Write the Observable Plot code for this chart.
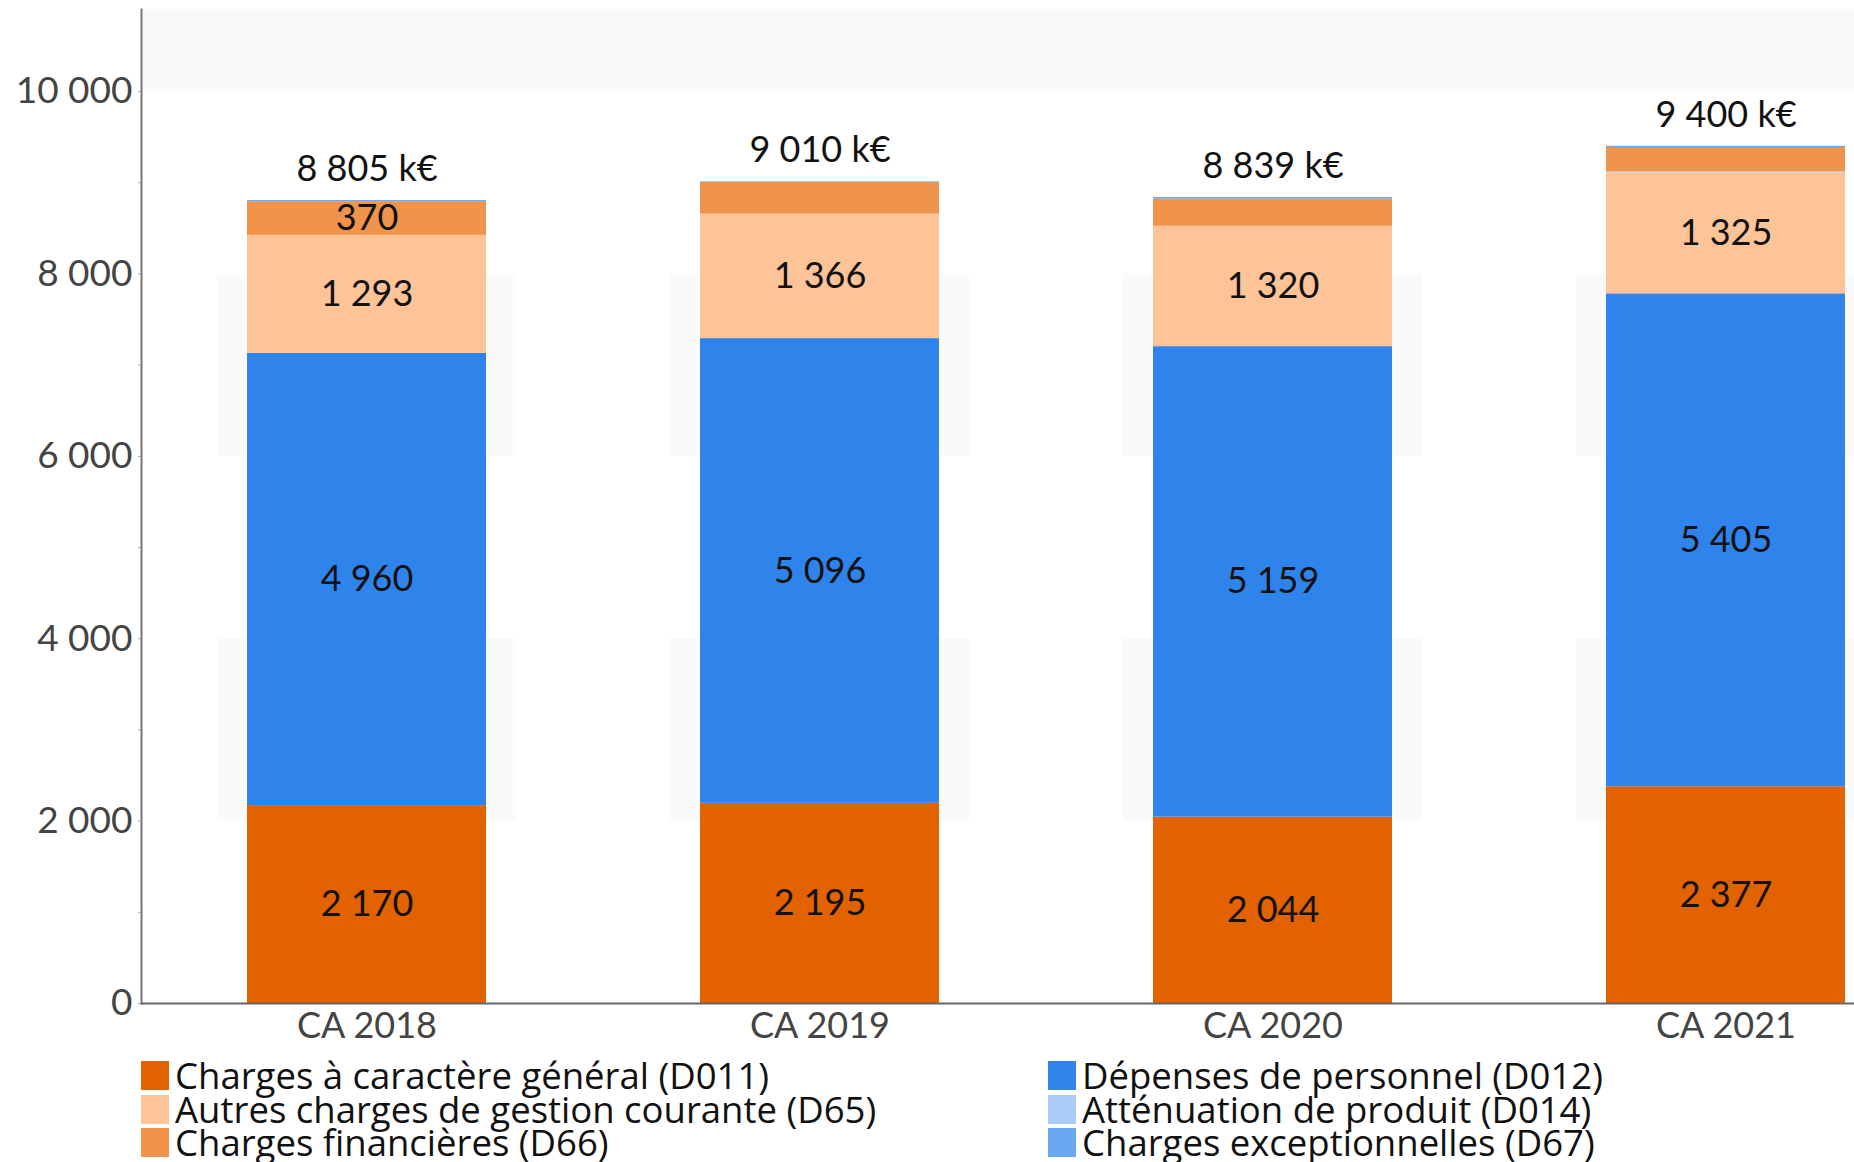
<!DOCTYPE html>
<html lang="fr">
<head>
<meta charset="utf-8">
<script src="https://cdn.jsdelivr.net/npm/d3@7"></script>
<script src="https://cdn.jsdelivr.net/npm/@observablehq/plot@0.6"></script>
<style>
  html, body { margin: 0; padding: 0; background: #fff; overflow: hidden; width: 1854px; height: 1162px; }
  #chart svg { display: block; max-width: none; }
  #legend {
    display: grid;
    grid-template-columns: 907px auto;
    padding-left: 141px;
    font-family: "Open Sans", sans-serif;
    font-size: 36.5px;
    line-height: 33.5px;
    color: #111;
  }
  #legend .item { display: flex; align-items: center; white-space: nowrap; }
  #legend .sw { display: inline-block; width: 28px; height: 29px; margin-right: 6px; flex: none; }
</style>
</head>
<body>
<div id="chart"></div>
<div id="legend"></div>
<script>
// Budget years (comptes administratifs)
const years = ["CA 2018", "CA 2019", "CA 2020", "CA 2021"];

// Expense categories, in stacking order from the bottom up
const series = [
  "Charges à caractère général (D011)",
  "Dépenses de personnel (D012)",
  "Autres charges de gestion courante (D65)",
  "Atténuation de produit (D014)",
  "Charges financières (D66)",
  "Charges exceptionnelles (D67)"
];

// Amounts in k€, one value per year
const d011 = [2170, 2195, 2044, 2377];
const d012 = [4960, 5096, 5159, 5405];
const d65  = [1293, 1366, 1320, 1325];
const d014 = [0, 0, 0, 10];
const d66  = [370, 345, 298, 270];
const d67  = [12, 8, 18, 13];

// Total expenses per year, in k€
const totals = [8805, 9010, 8839, 9400];

// Y-axis ticks
const yTicks = [0, 2000, 4000, 6000, 8000, 10000];

const colors = ["#e26200", "#2f84ec", "#ffc398", "#a9cbf6", "#f0934b", "#6aa7f1"];

const seriesValues = [d011, d012, d65, d014, d66, d67];
const rows = [];
years.forEach((year, i) => {
  series.forEach((s, j) => rows.push({year, series: s, value: seriesValues[j][i]}));
});
const totalRows = years.map((year, i) => ({year, total: totals[i]}));

// French number formatting: thousands grouped with a space
const fr = d3.formatLocale({decimal: ",", thousands: "\u00a0", grouping: [3], currency: ["", "\u00a0€"]});
const fmt = fr.format(",d");

// Light shaded cells behind the bars, on alternating tick intervals
const shadeCells = [];
years.forEach(year => {
  [[yTicks[1], yTicks[2]], [yTicks[3], yTicks[4]]].forEach(([lo, hi]) => shadeCells.push({year, lo, hi}));
});

const yMax = 10900;

const chart = Plot.plot({
  width: 1854,
  height: 1059,
  marginLeft: 141,
  marginRight: -98,
  marginTop: 9,
  marginBottom: 56,
  style: {fontFamily: "Lato, sans-serif", fontSize: "35px", background: "transparent"},
  x: {domain: years, paddingInner: 0.472, paddingOuter: 0.234, label: null},
  y: {domain: [0, yMax], label: null},
  color: {domain: series, range: colors},
  marks: [
    Plot.rect([0], {y1: yTicks[5], y2: yMax, fill: "#f9f9f9"}),
    Plot.barY(shadeCells, {x: "year", y1: "lo", y2: "hi", fill: "#fafafa", insetLeft: -30, insetRight: -30}),
    Plot.barY(rows, Plot.stackY({x: "year", y: "value", z: "series", fill: "series"})),
    Plot.text(rows, Plot.stackY({
      x: "year", y: "value", z: "series",
      text: d => d.value >= 360 ? fmt(d.value) : "",
      fill: "#111", fontSize: 36
    })),
    Plot.text(totalRows, {x: "year", y: "total", text: d => fmt(d.total) + "\u00a0k€", dy: -31, fill: "#111", fontSize: 36}),
    Plot.axisY({ticks: [1000, 3000, 5000, 7000, 9000], tickSize: 3, stroke: "#e99", tickFormat: () => ""}),
    Plot.axisY({ticks: yTicks, tickFormat: fmt, tickSize: 3, tickPadding: 6, stroke: "#aaa", fill: "#444", fontSize: 37}),
    Plot.axisX({tickSize: 0, tickPadding: 9, fill: "#444", fontSize: 36}),
    Plot.frame({anchor: "left", stroke: "#777", strokeWidth: 2}),
    Plot.ruleY([0], {stroke: "#666", strokeWidth: 2})
  ]
});
document.getElementById("chart").append(chart);

// Legend: two columns, read row by row (D011, D012 / D65, D014 / D66, D67)
const legend = document.getElementById("legend");
series.forEach((s, j) => {
  const item = document.createElement("div");
  item.className = "item";
  const sw = document.createElement("span");
  sw.className = "sw";
  sw.style.background = colors[j];
  item.append(sw, document.createTextNode(s));
  legend.append(item);
});
</script>
</body>
</html>
